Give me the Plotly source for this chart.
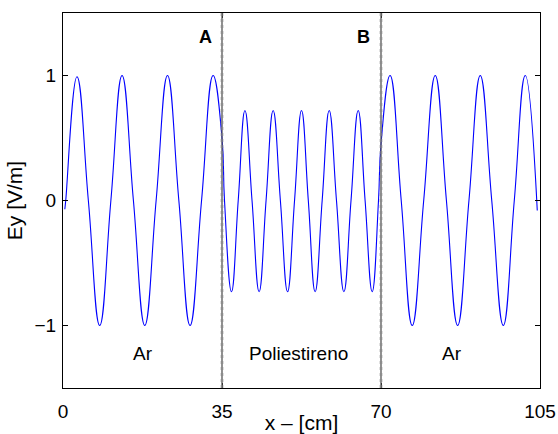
import plotly.graph_objects as go

# Field profile: key points (zero crossings, peaks, troughs)
# Region 1: Ar (0-35 cm)
x_ar1 = [0.4, 0.6, 3.08, 5.58, 8.08, 10.54, 13.0, 15.5, 18.0, 20.5, 23.0, 25.5, 27.97, 30.5, 33.04, 35.0]
y_ar1 = [-0.07, 0.0, 0.99, 0.0, -1.0, 0.0, 1.0, 0.0, -1.0, 0.0, 1.0, 0.0, -1.0, 0.0, 1.0, 0.5]
# Region 2: Poliestireno (35-70 cm)
x_pol = [35.55, 37.09, 38.57, 40.05, 41.61, 43.17, 44.7, 46.26, 47.85, 49.43, 50.97, 52.5,
         54.0, 55.5, 57.05, 58.6, 60.2, 61.83, 63.4, 64.98, 66.5, 68.06, 69.45, 70.0]
y_pol = [0.0, -0.73, 0.0, 0.72, 0.0, -0.73, 0.0, 0.72, 0.0, -0.73, 0.0, 0.72,
         0.0, -0.73, 0.0, 0.72, 0.0, -0.73, 0.0, 0.72, 0.0, -0.73, 0.0, 0.45]
# Region 3: Ar (70-105 cm)
x_ar2 = [72.0, 74.45, 76.87, 79.4, 81.94, 84.4, 86.87, 89.36, 91.85, 94.38, 96.92, 99.34, 101.76, 104.4]
y_ar2 = [1.0, 0.0, -1.0, 0.0, 1.0, 0.0, -1.0, 0.0, 1.0, 0.0, -1.0, 0.0, 1.0, -0.08]

x_all = x_ar1 + x_pol + x_ar2
y_all = y_ar1 + y_pol + y_ar2

interfaces = [35, 70]
interface_labels = ["A", "B"]
interface_label_x = [33.2, 68.1]
region_labels = ["Ar", "Poliestireno", "Ar"]
region_label_x = [17.6, 51.9, 85.6]

x_ticks = [0, 35, 70, 105]
y_ticks = [-1, 0, 1]
y_tick_text = ["\u22121", "0", "1"]

FONT = "Liberation Sans, Arial, Helvetica, sans-serif"

fig = go.Figure()
fig.add_trace(go.Scatter(x=x_all, y=y_all, mode="lines",
                         line=dict(color="#0000ff", width=1.1, shape="spline", smoothing=1.3),
                         hoverinfo="skip", showlegend=False))

for xi in interfaces:
    fig.add_shape(type="line", x0=xi, x1=xi, y0=0, y1=1, xref="x", yref="paper",
                  line=dict(color="#555555", width=1.3))
    fig.add_shape(type="line", x0=xi, x1=xi, y0=0, y1=1, xref="x", yref="paper",
                  line=dict(color="#888888", width=3, dash="dot"), opacity=0.5)

for xl, lab in zip(interface_label_x, interface_labels):
    fig.add_annotation(x=xl, y=1.31, text="<b>" + lab + "</b>", showarrow=False,
                       xanchor="right", font=dict(family=FONT, size=18, color="black"))

for xl, lab in zip(region_label_x, region_labels):
    fig.add_annotation(x=xl, y=-1.22, text=lab, showarrow=False,
                       font=dict(family=FONT, size=19, color="black"))

axis_common = dict(showline=True, linecolor="black", linewidth=1.3, mirror="ticks",
                   ticks="inside", ticklen=5, tickwidth=1, tickcolor="black",
                   showgrid=False, zeroline=False, automargin=False,
                   tickfont=dict(family=FONT, size=19, color="black"))

fig.update_xaxes(range=[0, 105], tickvals=x_ticks, ticktext=[str(v) for v in x_ticks],
                 title=dict(text="x \u2013 [cm]", font=dict(family=FONT, size=21, color="black"),
                            standoff=0),
                 ticklabelstandoff=6, ticklabeloverflow="allow", **axis_common)
fig.update_yaxes(range=[-1.5, 1.5], tickvals=y_ticks, ticktext=y_tick_text,
                 title=dict(text="Ey [V/m]", font=dict(family=FONT, size=21, color="black"),
                            standoff=6),
                 ticklabelstandoff=2, **axis_common)

fig.update_layout(width=558, height=434, margin=dict(l=63, r=18, t=13, b=46),
                  paper_bgcolor="white", plot_bgcolor="white")

# Remove the page's default body margin so the figure fills the window exactly
fig.write_html("out.html",
               config={"displayModeBar": False},
               post_script="document.body.style.margin='0';"
                           "document.documentElement.style.overflow='hidden';")
